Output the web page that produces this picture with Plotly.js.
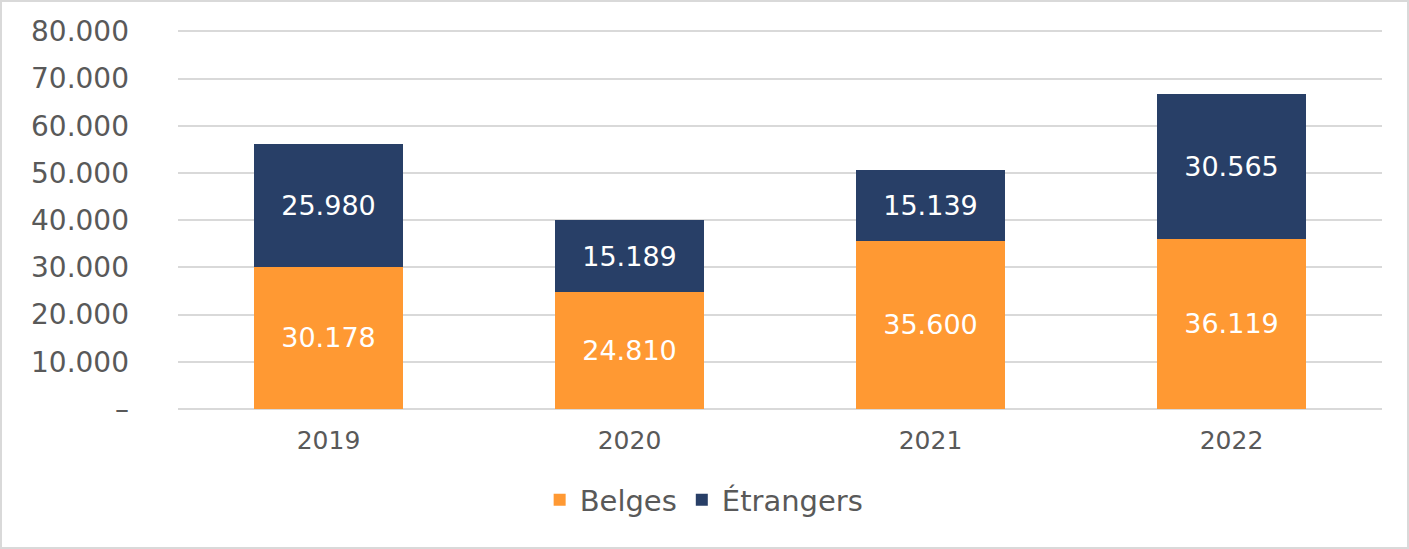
<!DOCTYPE html>
<html>
<head>
<meta charset="utf-8">
<script src="https://cdn.plot.ly/plotly-3.0.1.min.js"></script>
<style>
html,body{margin:0;padding:0;background:#fff;}
#wrap{position:absolute;left:0;top:0;width:1405px;height:545px;border:2px solid #d9d9d9;}
#chart{width:1405px;height:545px;}
</style>
</head>
<body>
<div id="wrap"><div id="chart"></div></div>
<script>
const years = ['2019', '2020', '2021', '2022'];
const belges = [30178, 24810, 35600, 36119];
const etrangers = [25980, 15189, 15139, 30565];
const yTickVals = [0, 10000, 20000, 30000, 40000, 50000, 60000, 70000, 80000];
const yTickText = ['–', '10.000', '20.000', '30.000', '40.000', '50.000', '60.000', '70.000', '80.000'];

function fmt(v) {
  return String(v).replace(/\B(?=(\d{3})+(?!\d))/g, '.');
}

const FONT = '"DejaVu Sans", "Open Sans", sans-serif';

const traces = [
  {
    type: 'bar', name: 'Belges', x: years, y: belges,
    marker: {color: '#FF9933'},
    text: belges.map(fmt), textposition: 'inside', insidetextanchor: 'middle',
    textangle: 0,
    textfont: {color: '#ffffff', size: 27, family: FONT},
    hoverinfo: 'none'
  },
  {
    type: 'bar', name: 'Étrangers', x: years, y: etrangers,
    marker: {color: '#283F67'},
    text: etrangers.map(fmt), textposition: 'inside', insidetextanchor: 'middle',
    textangle: 0,
    textfont: {color: '#ffffff', size: 27, family: FONT},
    hoverinfo: 'none'
  }
];

const layout = {
  width: 1405, height: 545,
  barmode: 'stack',
  bargap: 0.505,
  margin: {l: 176, r: 25, t: 28, b: 138},
  paper_bgcolor: '#ffffff', plot_bgcolor: '#ffffff',
  font: {family: FONT, color: '#595959'},
  showlegend: true,
  legend: {
    orientation: 'h', x: 0.437, xanchor: 'center',
    y: -0.24, yanchor: 'middle',
    font: {size: 29, color: '#595959', family: FONT},
    traceorder: 'normal', itemwidth: 30
  },
  xaxis: {
    type: 'category',
    tickfont: {size: 25, color: '#595959', family: FONT},
    showgrid: false, showline: false, zeroline: false, ticks: '',
    ticklabelstandoff: 14
  },
  yaxis: {
    range: [0, 80300],
    tickvals: yTickVals, ticktext: yTickText,
    tickfont: {size: 28, color: '#595959', family: FONT},
    showgrid: true, gridcolor: '#d9d9d9', gridwidth: 2,
    zeroline: true, zerolinecolor: '#d9d9d9', zerolinewidth: 2,
    showline: false, ticks: '', ticklabelstandoff: 48
  }
};

Plotly.newPlot('chart', traces, layout, {displayModeBar: false, staticPlot: true});
</script>
</body>
</html>
